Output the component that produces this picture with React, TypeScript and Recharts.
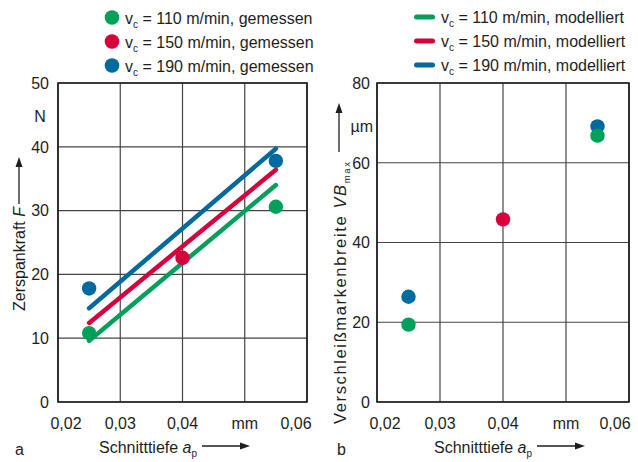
import { ComposedChart, Line, Scatter, XAxis, YAxis, CartesianGrid, ReferenceArea } from "recharts";

const GREEN = "#00a05a";
const RED = "#d5003c";
const BLUE = "#00699e";
const INK = "#1e1e1e";
const FONT = "'Liberation Sans', Arial, sans-serif";

// Schnitttiefe ticks (mm)
const apTicks = [0.02, 0.03, 0.04, 0.05, 0.06];
const apTickLabels = ["0,02", "0,03", "0,04", "mm", "0,06"];
const forceTicks = [0, 10, 20, 30, 40, 50];
const wearTicks = [0, 20, 40, 60, 80];

// measured points
const apMeasured110 = [0.025, 0.055];
const apMeasured150 = [0.04];
const apMeasured190 = [0.025, 0.055];
const force110 = [10.8, 30.6];
const force150 = [22.6];
const force190 = [17.8, 37.8];
const wear110 = [19.4, 66.8];
const wear150 = [45.8];
const wear190 = [26.4, 69.1];

// modelled force lines
const apModel = [0.025, 0.055];
const forceModel110 = [9.6, 34.0];
const forceModel150 = [12.4, 36.4];
const forceModel190 = [14.7, 39.7];

const pts = (xs: number[], ys: number[]) => xs.map((x, i) => ({ x, y: ys[i] }));

function XTick({ x, y, payload, firstShift, lastShift }: any) {
  const i = apTicks.indexOf(payload.value);
  const shift = i === 0 ? firstShift : i === apTicks.length - 1 ? lastShift : 0;
  return (
    <text x={x + shift} y={y + 27} textAnchor="middle" fontSize={16} fontFamily={FONT} fill={INK}>
      {apTickLabels[i]}
    </text>
  );
}

function YTick({ x, y, payload, gap }: any) {
  return (
    <text x={x - gap} y={y} dy="0.36em" textAnchor="end" fontSize={16} fontFamily={FONT} fill={INK}>
      {payload.value}
    </text>
  );
}

const dotShape = (color: string) => (p: any) => <circle cx={p.cx} cy={p.cy} r={7.2} fill={color} />;

type Series = { data: { x: number; y: number }[]; color: string };

function Panel({
  left, width, plotLeft, plotRight, yMax, yTicks, yGap, firstShift, lastShift, lines, dots,
}: {
  left: number; width: number; plotLeft: number; plotRight: number; yMax: number; yTicks: number[];
  yGap: number; firstShift: number; lastShift: number; lines: Series[]; dots: Series[];
}) {
  return (
    <div style={{ position: "absolute", left, top: 0 }}>
      <ComposedChart
        width={width}
        height={462}
        margin={{ top: 83, right: width - plotRight, bottom: 30, left: plotLeft - 50 }}
      >
        <CartesianGrid stroke="#444" strokeWidth={1.2} />
        <XAxis
          type="number" dataKey="x" domain={[0.02, 0.06]} ticks={apTicks} height={30}
          tick={<XTick firstShift={firstShift} lastShift={lastShift} />}
          tickSize={0} tickMargin={0} axisLine={false} tickLine={false} allowDataOverflow
        />
        <YAxis
          type="number" domain={[0, yMax]} ticks={yTicks} width={50}
          tick={<YTick gap={yGap} />}
          tickSize={0} tickMargin={0} axisLine={false} tickLine={false} allowDataOverflow
        />
        <ReferenceArea x1={0.02} x2={0.06} y1={0} y2={yMax} fill="none" fillOpacity={0} stroke="#1a1a1a" strokeWidth={1.6} />
        {lines.map((s, i) => (
          <Line
            key={"l" + i} data={s.data} dataKey="y" type="linear" stroke={s.color} strokeWidth={4.5}
            strokeLinecap="round" dot={false} activeDot={false} isAnimationActive={false}
          />
        ))}
        {dots.map((s, i) => (
          <Scatter key={"s" + i} data={s.data} dataKey="y" fill={s.color} shape={dotShape(s.color)} isAnimationActive={false} />
        ))}
      </ComposedChart>
    </div>
  );
}

function ArrowUp({ x, y1, y2 }: { x: number; y1: number; y2: number }) {
  return (
    <g>
      <line x1={x} y1={y1} x2={x} y2={y2 + 8} stroke={INK} strokeWidth={1.3} />
      <polygon points={`${x},${y2} ${x - 3.5},${y2 + 10} ${x + 3.5},${y2 + 10}`} fill={INK} />
    </g>
  );
}

function ArrowRight({ x1, x2, y }: { x1: number; x2: number; y: number }) {
  return (
    <g>
      <line x1={x1} y1={y} x2={x2 - 8} y2={y} stroke={INK} strokeWidth={1.3} />
      <polygon points={`${x2},${y} ${x2 - 10},${y - 3.5} ${x2 - 10},${y + 3.5}`} fill={INK} />
    </g>
  );
}

function LegendText({ x, y, speed, kind }: { x: number; y: number; speed: number; kind: string }) {
  return (
    <text x={x} y={y} fontSize={16} fontFamily={FONT} fill={INK}>
      {"v"}
      <tspan dy={4} fontSize={10}>c</tspan>
      <tspan dy={-4}>{` = ${speed} m/min, ${kind}`}</tspan>
    </text>
  );
}

const speeds = [110, 150, 190];
const colors = [GREEN, RED, BLUE];
const legendBaselines = [23.5, 47.5, 71.5];

function AxisLabelX({ x, y, arrowEnd }: { x: number; y: number; arrowEnd: number }) {
  return (
    <g>
      <text x={x} y={y} fontSize={16} fontFamily={FONT} fill={INK}>
        {"Schnitttiefe "}
        <tspan fontStyle="italic">a</tspan>
        <tspan dy={4} fontSize={10}>p</tspan>
      </text>
      <ArrowRight x1={arrowEnd - 48} x2={arrowEnd} y={y - 7} />
    </g>
  );
}

export default function App() {
  return (
    <div style={{ position: "absolute", left: 0, top: 0, width: 638, height: 462, background: "#fff", overflow: "hidden" }}>
      <Panel
        left={0} width={320} plotLeft={58} plotRight={307} yMax={50} yTicks={forceTicks} yGap={9}
        firstShift={8} lastShift={-10}
        lines={[
          { data: pts(apModel, forceModel110), color: GREEN },
          { data: pts(apModel, forceModel150), color: RED },
          { data: pts(apModel, forceModel190), color: BLUE },
        ]}
        dots={[
          { data: pts(apMeasured110, force110), color: GREEN },
          { data: pts(apMeasured150, force150), color: RED },
          { data: pts(apMeasured190, force190), color: BLUE },
        ]}
      />
      <Panel
        left={320} width={318} plotLeft={57} plotRight={309} yMax={80} yTicks={wearTicks} yGap={7}
        firstShift={8} lastShift={-9}
        lines={[]}
        dots={[
          { data: pts(apMeasured190, wear190), color: BLUE },
          { data: pts(apMeasured110, wear110), color: GREEN },
          { data: pts(apMeasured150, wear150), color: RED },
        ]}
      />
      <svg width={638} height={462} style={{ position: "absolute", left: 0, top: 0, pointerEvents: "none" }}>
        {/* legend a */}
        {speeds.map((s, i) => (
          <g key={"la" + s}>
            <circle cx={112} cy={legendBaselines[i] - 6} r={7.3} fill={colors[i]} />
            <LegendText x={125} y={legendBaselines[i]} speed={s} kind="gemessen" />
          </g>
        ))}
        {/* legend b */}
        {speeds.map((s, i) => (
          <g key={"lb" + s}>
            <line x1={416.5} x2={432.5} y1={legendBaselines[i] - 6.5} y2={legendBaselines[i] - 6.5}
              stroke={colors[i]} strokeWidth={5} strokeLinecap="round" />
            <LegendText x={441} y={legendBaselines[i] - 0.5} speed={s} kind="modelliert" />
          </g>
        ))}
        {/* units */}
        <text x={40} y={122} textAnchor="middle" fontSize={16} fontFamily={FONT} fill={INK}>N</text>
        <text x={373} y={132} textAnchor="end" fontSize={16} fontFamily={FONT} fill={INK}>µm</text>
        {/* y titles */}
        <text x={25} y={311} transform="rotate(-90 25 311)" fontSize={16} fontFamily={FONT} fill={INK}>
          {"Zerspankraft "}
          <tspan fontStyle="italic">F</tspan>
        </text>
        <ArrowUp x={19} y1={204} y2={157} />
        <text x={346} y={424} transform="rotate(-90 346 424)" fontSize={16.5} fontFamily={FONT} fill={INK}
          textLength={262} lengthAdjust="spacing">
          {"Verschleißmarkenbreite "}
          <tspan fontStyle="italic">VB</tspan>
          <tspan dy={4} fontSize={9.5}>max</tspan>
        </text>
        <ArrowUp x={339} y1={152} y2={103} />
        {/* x titles */}
        <AxisLabelX x={99} y={453} arrowEnd={250} />
        <AxisLabelX x={434} y={453} arrowEnd={585} />
        <text x={15} y={455} fontSize={16} fontFamily={FONT} fill={INK}>a</text>
        <text x={337} y={455} fontSize={16} fontFamily={FONT} fill={INK}>b</text>
      </svg>
    </div>
  );
}
